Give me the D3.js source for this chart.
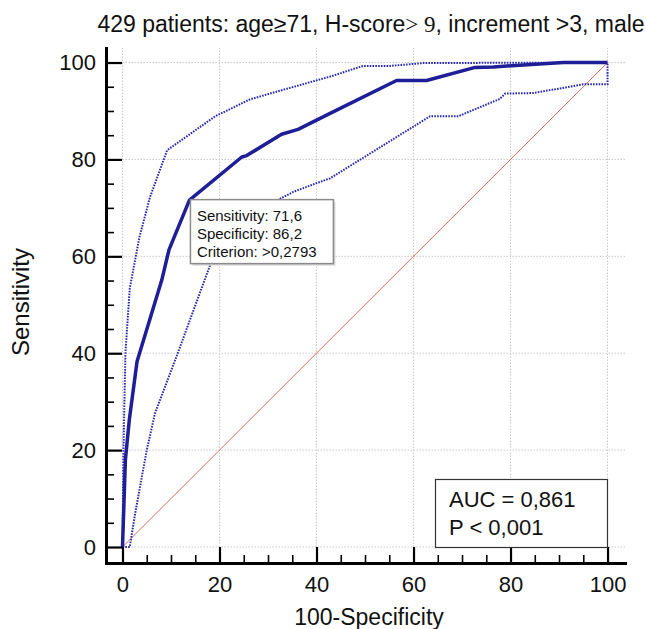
<!DOCTYPE html>
<html>
<head>
<meta charset="utf-8">
<script src="https://cdn.jsdelivr.net/npm/d3@7"></script>
<style>
  html, body { margin: 0; padding: 0; background: #fff; }
  svg { display: block; }
  text { font-family: Arial, "Liberation Sans", sans-serif; fill: #111; }
</style>
</head>
<body>
<svg id="chart" width="646" height="629"></svg>
<script>
// ---- data ----
const rocX = [0, 0.6, 1.4, 3.0, 8.1, 9.6, 13.8, 24.6, 25.6, 32.8, 36.2, 42.8, 56.5, 62.7, 72.7, 76.5, 90.9, 100];
const rocY = [0, 18, 26.2, 38.3, 55.1, 61.4, 71.6, 80.5, 80.8, 85.2, 86.2, 89.5, 96.3, 96.3, 99.0, 99.1, 100, 100];

const upperX = [0, 0.2, 0.6, 1.5, 3.5, 5.7, 9.2, 19.1, 26.3, 32.5, 42.8, 49.6, 55.2, 62, 100];
const upperY = [0, 20, 40, 53.4, 64, 72.3, 81.9, 88.9, 92.4, 94.2, 97.1, 99.3, 99.3, 99.9, 100];

const lowerX = [0, 1.5, 2.6, 5, 6.7, 11.5, 16.3, 18.7, 22, 28, 35.2, 40, 42.8, 63.4, 69.2, 77.8, 78.9, 84.7, 95, 100, 100];
const lowerY = [0, 0, 6.9, 20, 27.6, 40.3, 53.4, 59.9, 65, 69.5, 73.3, 75.1, 76.1, 88.9, 88.9, 92.5, 93.6, 93.7, 95.5, 95.5, 100];

const diagX = [0, 100];
const diagY = [0, 100];

const majorTicks = [0, 20, 40, 60, 80, 100];
const minorTicks = [5, 10, 15, 25, 30, 35, 45, 50, 55, 65, 70, 75, 85, 90, 95];

const titleParts = ["429 patients: age\u226571, H-score", "> 9", ", increment >3, male"];
const xTitle = "100-Specificity";
const yTitle = "Sensitivity";
const infoLines = ["Sensitivity: 71,6", "Specificity: 86,2", "Criterion: >0,2793"];
const statLines = ["AUC = 0,861", "P < 0,001"];
const infoAnchor = [13.8, 71.6];

// ---- layout ----
const svg = d3.select("#chart");
const x = d3.scaleLinear().domain([-3.4, 103.6]).range([106, 625]);
const y = d3.scaleLinear().domain([-3.3, 103]).range([563, 48]);

// grid
const grid = svg.append("g");
grid.selectAll("line.v").data(majorTicks).join("line")
  .attr("x1", d => x(d)).attr("x2", d => x(d))
  .attr("y1", y(0)).attr("y2", y(103))
  .attr("stroke", "#cacaca").attr("stroke-width", 1).attr("stroke-dasharray", "1.5,1.5");
grid.selectAll("line.h").data(majorTicks).join("line")
  .attr("y1", d => y(d)).attr("y2", d => y(d))
  .attr("x1", x(0)).attr("x2", x(103.6))
  .attr("stroke", "#cacaca").attr("stroke-width", 1).attr("stroke-dasharray", "1.5,1.5");

// diagonal
const line = d3.line().x(d => x(d[0])).y(d => y(d[1]));
svg.append("path").datum(d3.zip(diagX, diagY)).attr("d", line)
  .attr("fill", "none").attr("stroke", "#dc6b60").attr("stroke-width", 1);

// confidence bounds
const ciColor = "#2a2ab0";
[[upperX, upperY], [lowerX, lowerY]].forEach(([xs, ys]) => {
  svg.append("path").datum(d3.zip(xs, ys)).attr("d", line)
    .attr("fill", "none").attr("stroke", ciColor).attr("stroke-width", 2)
    .attr("stroke-dasharray", "1.6,1.2");
});

// ROC curve
svg.append("path").datum(d3.zip(rocX, rocY)).attr("d", line)
  .attr("fill", "none").attr("stroke", "#1e1e96").attr("stroke-width", 3.5)
  .attr("stroke-linejoin", "round");

// axes
const axFont = 22;
const gx = svg.append("g").attr("transform", `translate(0,${y(-3.3)})`);
gx.call(d3.axisBottom(x).tickValues(minorTicks).tickSize(-8).tickFormat("").tickSizeOuter(0))
  .call(g => g.select(".domain").remove())
  .selectAll("line").attr("stroke", "#000").attr("stroke-width", 1.6);
const gx2 = svg.append("g").attr("transform", `translate(0,${y(-3.3)})`);
gx2.call(d3.axisBottom(x).tickValues(majorTicks).tickSize(-16).tickPadding(13).tickSizeOuter(0));
gx2.select(".domain").attr("stroke", "#000").attr("stroke-width", 3).attr("stroke-linecap", "square");
gx2.selectAll(".tick line").attr("stroke", "#000").attr("stroke-width", 2.2);
gx2.selectAll("text").attr("font-size", axFont).attr("font-family", "Arial, 'Liberation Sans', sans-serif").attr("fill", "#111");

const gy = svg.append("g").attr("transform", `translate(${x(-3.4)},0)`);
gy.call(d3.axisLeft(y).tickValues(minorTicks).tickSize(-8).tickFormat("").tickSizeOuter(0))
  .call(g => g.select(".domain").remove())
  .selectAll("line").attr("stroke", "#000").attr("stroke-width", 1.6);
const gy2 = svg.append("g").attr("transform", `translate(${x(-3.4)},0)`);
gy2.call(d3.axisLeft(y).tickValues(majorTicks).tickSize(-16).tickPadding(10).tickSizeOuter(0));
gy2.select(".domain").attr("stroke", "#000").attr("stroke-width", 3).attr("stroke-linecap", "square");
gy2.selectAll(".tick line").attr("stroke", "#000").attr("stroke-width", 2.2);
gy2.selectAll("text").attr("font-size", axFont).attr("font-family", "Arial, 'Liberation Sans', sans-serif").attr("fill", "#111");

// axis titles
svg.append("text").attr("x", 369).attr("y", 625).attr("text-anchor", "middle")
  .attr("font-size", 23).text(xTitle);
svg.append("text").attr("transform", "translate(29,302) rotate(-90)").attr("text-anchor", "middle")
  .attr("font-size", 24).text(yTitle);

// title
const t = svg.append("text").attr("x", 371).attr("y", 32).attr("text-anchor", "middle").attr("font-size", 23);
t.append("tspan").text(titleParts[0]);
t.append("tspan").attr("font-family", "'Liberation Serif', 'Times New Roman', serif").text(titleParts[1]);
t.append("tspan").text(titleParts[2]);

// info box near criterion point
const bx = x(infoAnchor[0]) + 1, by = y(infoAnchor[1]) - 0.5;
svg.append("rect").attr("x", bx + 2).attr("y", by + 2).attr("width", 143).attr("height", 64)
  .attr("fill", "#d8d8d8");
svg.append("rect").attr("x", bx).attr("y", by).attr("width", 143).attr("height", 64)
  .attr("fill", "#fff").attr("stroke", "#8a8a8a").attr("stroke-width", 1.5);
svg.append("g").selectAll("text").data(infoLines).join("text")
  .attr("x", bx + 6.5).attr("y", (d, i) => by + 21 + i * 18)
  .attr("font-size", 15).text(d => d);

// AUC box
svg.append("rect").attr("x", 435.5).attr("y", 479.5).attr("width", 172).attr("height", 68)
  .attr("fill", "#fff").attr("stroke", "#333").attr("stroke-width", 1.2);
svg.append("g").selectAll("text").data(statLines).join("text")
  .attr("x", 449).attr("y", (d, i) => 507 + i * 27.5)
  .attr("font-size", 22).text(d => d);
</script>
</body>
</html>
